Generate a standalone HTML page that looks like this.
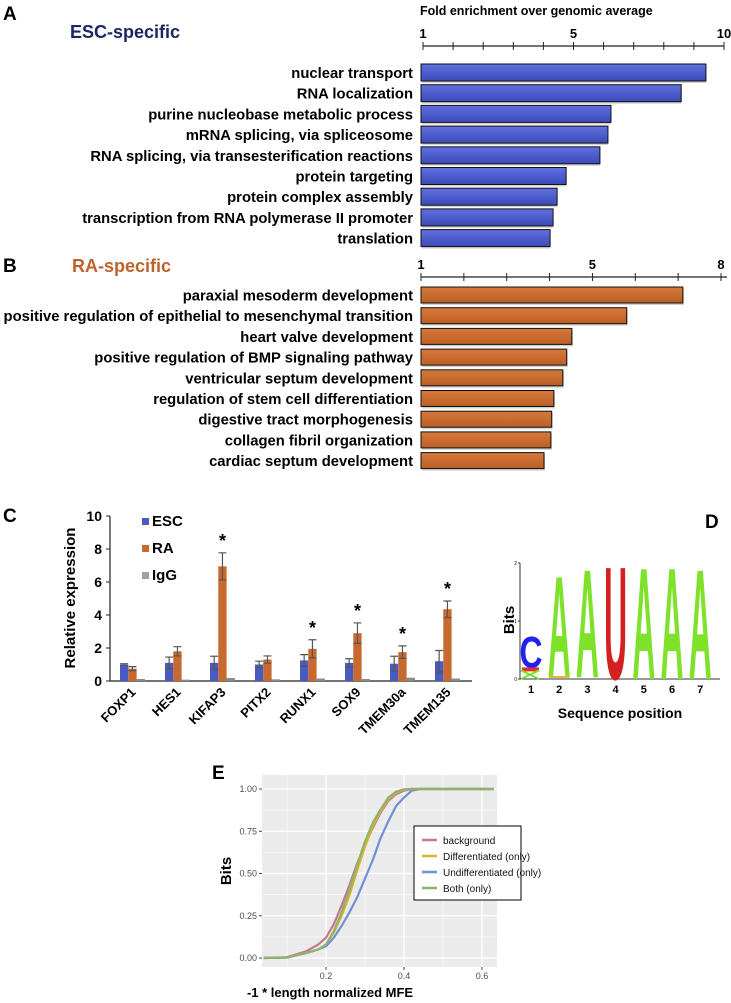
<!DOCTYPE html>
<html><head><meta charset="utf-8"><style>
html,body{margin:0;padding:0;background:#fff;}
svg{display:block;font-family:"Liberation Sans",Arial,sans-serif;}
</style></head><body>
<svg id="fig" width="731" height="1003" viewBox="0 0 731 1003">
<defs>
<linearGradient id="gb" x1="0" y1="0" x2="0" y2="1"><stop offset="0" stop-color="#6070e0"/><stop offset="1" stop-color="#3a4ab8"/></linearGradient>
<linearGradient id="go" x1="0" y1="0" x2="0" y2="1"><stop offset="0" stop-color="#d8793a"/><stop offset="1" stop-color="#bb5f26"/></linearGradient>
</defs>
<g id="pA">
<text x="3" y="20" font-size="19" font-weight="bold">A</text>
<text x="70" y="38" font-size="18" font-weight="bold" fill="#1e2466">ESC-specific</text>
<text x="420" y="15" font-size="12.5" font-weight="bold">Fold enrichment over genomic average</text>
</g>
<g id="pB">
<text x="3" y="272" font-size="19" font-weight="bold">B</text>
<text x="72" y="272" font-size="18" font-weight="bold" fill="#c0622a">RA-specific</text>
</g>
<g id="pC">
<text x="3" y="522" font-size="19" font-weight="bold">C</text>
<text transform="translate(75,598) rotate(-90)" text-anchor="middle" font-size="15" font-weight="bold">Relative expression</text>
</g>
<g id="pD">
<text x="705" y="528" font-size="19" font-weight="bold">D</text>
<text transform="translate(514,620) rotate(-90)" text-anchor="middle" font-size="15" font-weight="bold">Bits</text>
<text x="620" y="718" text-anchor="middle" font-size="14" font-weight="bold">Sequence position</text>
</g>
<g id="pE">
<text x="212" y="779" font-size="19" font-weight="bold">E</text>
<text transform="translate(231,871) rotate(-90)" text-anchor="middle" font-size="15" font-weight="bold">Bits</text>
<text x="330" y="997" text-anchor="middle" font-size="13" font-weight="bold">-1 * length normalized MFE</text>
</g>
</svg>
<script>
const NS='http://www.w3.org/2000/svg';
function mk(parent,tag,attrs,txt){const e=document.createElementNS(NS,tag);for(const k in attrs)e.setAttribute(k,attrs[k]);if(txt!==undefined)e.textContent=txt;parent.appendChild(e);return e;}

// ---------- Panel A data ----------
const aTerms=["nuclear transport","RNA localization","purine nucleobase metabolic process","mRNA splicing, via spliceosome","RNA splicing, via transesterification reactions","protein targeting","protein complex assembly","transcription from RNA polymerase II promoter","translation"];
const aValues=[9.46,8.72,6.62,6.53,6.29,5.28,5.01,4.89,4.80];
const aTickLabels=["1","","","","","5","","","","","10"];
// ---------- Panel B data ----------
const bTerms=["paraxial mesoderm development","positive regulation of epithelial to mesenchymal transition","heart valve development","positive regulation of BMP signaling pathway","ventricular septum development","regulation of stem cell differentiation","digestive tract morphogenesis","collagen fibril organization","cardiac septum development"];
const bValues=[7.11,5.80,4.52,4.40,4.31,4.10,4.05,4.03,3.87];
const bTickLabels=["1","","","","5","","","8"];
// ---------- Panel C data ----------
const genes=["FOXP1","HES1","KIFAP3","PITX2","RUNX1","SOX9","TMEM30a","TMEM135"];
const escVals=[1.0,1.1,1.1,1.0,1.25,1.1,1.05,1.2];
const escErr=[0.05,0.35,0.4,0.2,0.35,0.25,0.45,0.65];
const raVals=[0.75,1.8,6.95,1.3,1.95,2.9,1.75,4.35];
const raErr=[0.12,0.28,0.82,0.22,0.55,0.62,0.38,0.5];
const iggVals=[0.12,0.08,0.18,0.1,0.15,0.12,0.2,0.15];
const sig=[false,false,true,false,true,true,true,true];
const cTicks=[0,2,4,6,8,10];
// ---------- Panel D data ----------
const logoPos=[1,2,3,4,5,6,7];
const logoLetters=["C","A","A","U","A","A","A"];
const logoHeights=[0.55,1.8,1.92,2.0,1.98,1.98,1.95];
const logoBase=[0.2,0.03,0.03,0,0,0,0];
// ---------- Panel E data ----------
const eX=[0.04,0.10,0.15,0.18,0.20,0.22,0.24,0.26,0.28,0.30,0.32,0.34,0.36,0.38,0.40,0.42,0.44,0.46,0.63];
const bgY=[0,0.005,0.04,0.08,0.12,0.20,0.31,0.43,0.56,0.67,0.77,0.86,0.93,0.97,0.99,1,1,1,1];
const diffY=[0,0.003,0.03,0.05,0.08,0.15,0.25,0.37,0.52,0.66,0.78,0.87,0.94,0.98,0.995,1,1,1,1];
const undiffY=[0,0.003,0.03,0.05,0.07,0.12,0.19,0.27,0.36,0.47,0.58,0.71,0.81,0.90,0.95,0.99,1,1,1];
const bothY=[0,0.003,0.03,0.05,0.08,0.16,0.27,0.40,0.55,0.69,0.80,0.88,0.95,0.985,0.998,1,1,1,1];
const eSeriesNames=["background","Differentiated (only)","Undifferentiated (only)","Both (only)"];
const eYTicks=[0,0.25,0.5,0.75,1];
const eXTicks=[0.2,0.4,0.6];

// ===== Panel A =====
(function(){
  const g=document.getElementById('pA');
  const x0=423,x1=724,axY=46;
  const xs=v=>x0+(v-1)*(x1-x0)/9;
  const ax=mk(g,'line',{x1:x0,y1:axY,x2:x1,y2:axY,stroke:'#222','stroke-width':1.2});
  
  
  aTickLabels.forEach((t,i)=>{
    const x=x0+i*(x1-x0)/(aTickLabels.length-1);
    mk(g,'line',{x1:x,y1:axY-4,x2:x,y2:axY+4,stroke:'#222','stroke-width':1});
    if(t){const tl=mk(g,'text',{x:x,y:38,'text-anchor':'middle','font-size':13,'font-weight':'bold'},t);
      
      }
  });
  aValues.forEach((v,i)=>{
    const y=64+i*20.7;
    mk(g,'rect',{x:x0-1,y:y+2,width:xs(v)-x0+1,height:17,fill:'#000',opacity:0.18});
    const r=mk(g,'rect',{x:x0-2,y:y,width:xs(v)-x0+2,height:17,fill:'url(#gb)',stroke:'#111','stroke-width':1});
    
    
    const t=mk(g,'text',{x:413,y:y+14,'text-anchor':'end','font-size':14.8,'font-weight':'bold'},aTerms[i]);
    
    
  });
})();

// ===== Panel B =====
(function(){
  const g=document.getElementById('pB');
  const x0=421,x1=721,axY=277;
  const xs=v=>x0+(v-1)*(x1-x0)/7;
  const ax=mk(g,'line',{x1:x0,y1:axY,x2:x1+6,y2:axY,stroke:'#222','stroke-width':1.2});
  
  
  bTickLabels.forEach((t,i)=>{
    const x=x0+i*(x1-x0)/(bTickLabels.length-1);
    mk(g,'line',{x1:x,y1:axY-4,x2:x,y2:axY+4,stroke:'#222','stroke-width':1});
    if(t){const tl=mk(g,'text',{x:x,y:269,'text-anchor':'middle','font-size':13,'font-weight':'bold'},t);
      
      }
  });
  bValues.forEach((v,i)=>{
    const y=287+i*20.7;
    mk(g,'rect',{x:x0+1,y:y+2,width:xs(v)-x0,height:16,fill:'#000',opacity:0.18});
    const r=mk(g,'rect',{x:x0,y:y,width:xs(v)-x0,height:16,fill:'url(#go)',stroke:'#111','stroke-width':1});
    
    
    const t=mk(g,'text',{x:413,y:y+13.5,'text-anchor':'end','font-size':14.8,'font-weight':'bold'},bTerms[i]);
    
    
  });
})();

// ===== Panel C =====
(function(){
  const g=document.getElementById('pC');
  const ax0=110,y0=681,ppu=16.5,gw=45,bw=8.3,gx0=120;
  const ys=v=>y0-v*ppu;
  const yax=mk(g,'line',{x1:ax0,y1:ys(10),x2:ax0,y2:y0,stroke:'#222','stroke-width':1.2});
  
  
  const xax=mk(g,'line',{x1:ax0,y1:y0,x2:472,y2:y0,stroke:'#222','stroke-width':1.2});
  
  
  cTicks.forEach(t=>{
    mk(g,'line',{x1:ax0-4,y1:ys(t),x2:ax0,y2:ys(t),stroke:'#222'});
    const tl=mk(g,'text',{x:ax0-8,y:ys(t)+5,'text-anchor':'end','font-size':14,'font-weight':'bold'},String(t));
    
    
  });
  const series=[[escVals,escErr,'#4a5bbf'],[raVals,raErr,'#c8692f'],[iggVals,null,'#8a8a8a']];
  genes.forEach((gn,i)=>{
    const gx=gx0+i*gw;
    series.forEach((s,j)=>{
      const v=s[0][i],x=gx+j*bw;
      const r=mk(g,'rect',{x:x,y:ys(v),width:bw,height:v*ppu,fill:s[2]});
      
      
      if(s[1]){const e=s[1][i],cx=x+bw/2;
        mk(g,'path',{d:`M${cx},${ys(v+e)}V${ys(v-e)}M${cx-4},${ys(v+e)}H${cx+4}M${cx-4},${ys(v-e)}H${cx+4}`,stroke:'#555','stroke-width':1.2,fill:'none'});
        if(j===1&&sig[i]){const st=mk(g,'text',{x:cx,y:ys(v+e)-6,'text-anchor':'middle','font-size':18,'font-weight':'bold'},'*');
          
          }
      }
    });
    const cx=gx+bw*1.5+4;
    const lab=mk(g,'text',{transform:`translate(${cx},${y0+12}) rotate(-45)`,'text-anchor':'end','font-size':13,'font-weight':'bold'},gn);
    
    
  });
  [['ESC','#4a5bbf',522],['RA','#c8692f',549],['IgG','#a0a0a0',576]].forEach(l=>{
    mk(g,'rect',{x:142,y:l[2]-4,width:7,height:7,fill:l[1]});
    const t=mk(g,'text',{x:152,y:l[2]+4,'font-size':15,'font-weight':'bold'},l[0]);
    
    
  });
})();

// ===== Panel D =====
(function(){
  const g=document.getElementById('pD');
  const ax0=520,y0=679,ppb=58,x0=531,dx=28.2;
  const ys=v=>y0-v*ppb;
  const yax=mk(g,'line',{x1:ax0,y1:ys(2),x2:ax0,y2:y0,stroke:'#333','stroke-width':1});
  
  
  const xax=mk(g,'line',{x1:ax0,y1:y0,x2:720,y2:y0,stroke:'#333','stroke-width':1});
  
  
  [0,1,2].forEach(t=>{mk(g,'line',{x1:ax0-2,y1:ys(t),x2:ax0,y2:ys(t),stroke:'#333'});
    mk(g,'text',{x:ax0-3,y:ys(t)+2,'text-anchor':'end','font-size':5},String(t));});
  const col={A:'#7ee22a',U:'#d42020',C:'#2222ee'};
  logoPos.forEach((p,i)=>{
    const cx=x0+(p-1)*dx, w=23, h=logoHeights[i]*ppb, yb=ys(logoBase[i]);
    const L=logoLetters[i];
    const t=mk(g,'text',{transform:`translate(${cx-w/2},${yb}) scale(${w/72},${h/72})`,'font-size':100,'font-weight':'bold',fill:col[L],textLength:72,lengthAdjust:'spacingAndGlyphs'},L);
    
    
    const pl=mk(g,'text',{x:cx,y:693,'text-anchor':'middle','font-size':11,'font-weight':'bold'},String(p));
    
    
  });
  mk(g,'rect',{x:x0-9,y:ys(0.2),width:17,height:4,fill:'#e03030'});
  mk(g,'path',{d:`M${x0-10},${y0}L${x0+8},${ys(0.15)}M${x0-10},${ys(0.15)}L${x0+8},${y0}`,stroke:'#7ee22a','stroke-width':2});
  mk(g,'rect',{x:x0+dx-10,y:y0-3,width:20,height:2,fill:'#f0b040'});
})();

// ===== Panel E =====
(function(){
  const g=document.getElementById('pE');
  const px0=262,px1=497,py0=775,py1=967;
  const xs=v=>326+(v-0.2)*390;
  const ys=v=>958-v*169;
  const bg=mk(g,'rect',{x:px0,y:py0,width:px1-px0,height:py1-py0,fill:'#ebebeb'});
  
  
  [0.125,0.375,0.625,0.875].forEach(v=>mk(g,'line',{x1:px0,x2:px1,y1:ys(v),y2:ys(v),stroke:'#fff','stroke-width':0.6}));
  [0.1,0.3,0.5].forEach(v=>mk(g,'line',{x1:xs(v),x2:xs(v),y1:py0,y2:py1,stroke:'#fff','stroke-width':0.6}));
  eYTicks.forEach(v=>{mk(g,'line',{x1:px0,x2:px1,y1:ys(v),y2:ys(v),stroke:'#fff','stroke-width':1.2});
    mk(g,'line',{x1:px0-3,x2:px0,y1:ys(v),y2:ys(v),stroke:'#444'});
    const t=mk(g,'text',{x:px0-5,y:ys(v)+3,'text-anchor':'end','font-size':9,fill:'#4d4d4d'},v.toFixed(2));
    
    });
  eXTicks.forEach(v=>{mk(g,'line',{x1:xs(v),x2:xs(v),y1:py0,y2:py1,stroke:'#fff','stroke-width':1.2});
    mk(g,'line',{x1:xs(v),x2:xs(v),y1:py1,y2:py1+3,stroke:'#444'});
    const t=mk(g,'text',{x:xs(v),y:py1+12,'text-anchor':'middle','font-size':9,fill:'#4d4d4d'},String(v));
    
    });
  const cols=['#c47a8e','#d9b42a','#6f8fd6','#8fb36a'];
  [bgY,diffY,undiffY,bothY].forEach((ys_,k)=>{
    const d=eX.map((x,i)=>(i?'L':'M')+xs(x).toFixed(1)+','+ys(ys_[i]).toFixed(1)).join('');
    const p=mk(g,'path',{d:d,fill:'none',stroke:cols[k],'stroke-width':2.2,'stroke-linejoin':'round'});
    
    
  });
  const lg=mk(g,'rect',{x:414,y:826,width:107,height:74,fill:'#fff',stroke:'#000','stroke-width':1});
  
  
  eSeriesNames.forEach((n,k)=>{
    const y=840+k*16;
    mk(g,'line',{x1:422,x2:437,y1:y,y2:y,stroke:cols[k],'stroke-width':2.5});
    const t=mk(g,'text',{x:443,y:y+4,'font-size':10,fill:'#111'},n);
    
    
  });
})();
</script>
</body></html>
